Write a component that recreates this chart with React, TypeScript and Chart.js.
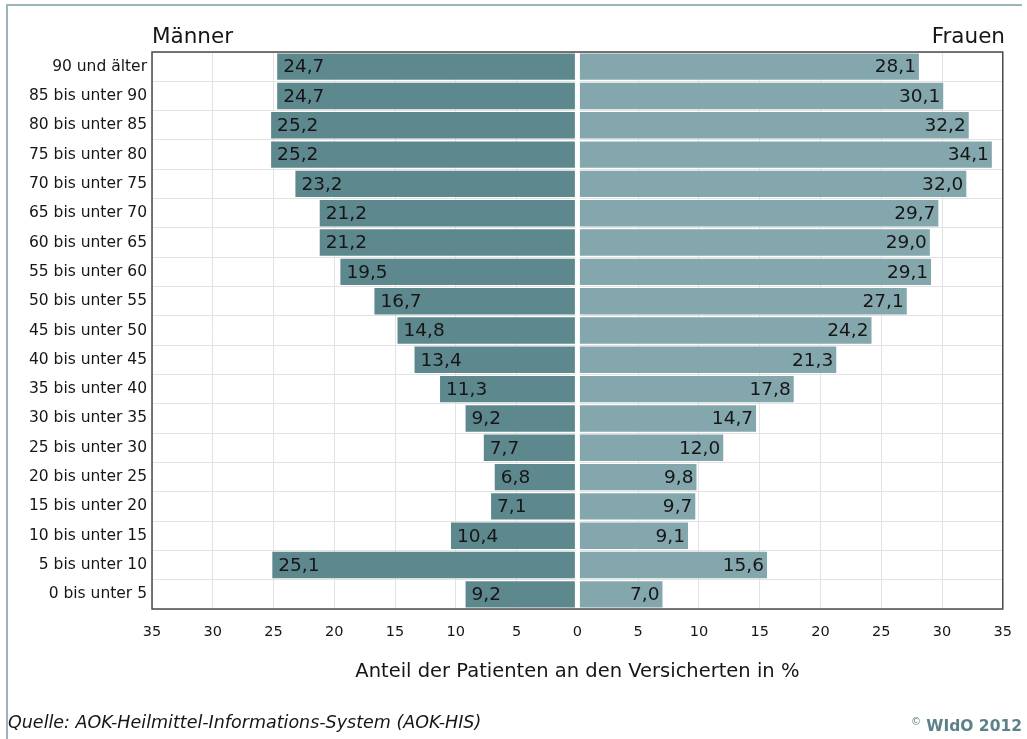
import React, { useEffect, useRef } from "react";
import { Chart, registerables } from "chart.js";

Chart.register(...registerables);

const ageGroups = [
  "90 und älter",
  "85 bis unter 90",
  "80 bis unter 85",
  "75 bis unter 80",
  "70 bis unter 75",
  "65 bis unter 70",
  "60 bis unter 65",
  "55 bis unter 60",
  "50 bis unter 55",
  "45 bis unter 50",
  "40 bis unter 45",
  "35 bis unter 40",
  "30 bis unter 35",
  "25 bis unter 30",
  "20 bis unter 25",
  "15 bis unter 20",
  "10 bis unter 15",
  "5 bis unter 10",
  "0 bis unter 5",
];

const maleValues = [24.7, 24.7, 25.2, 25.2, 23.2, 21.2, 21.2, 19.5, 16.7, 14.8, 13.4, 11.3, 9.2, 7.7, 6.8, 7.1, 10.4, 25.1, 9.2];
const femaleValues = [28.1, 30.1, 32.2, 34.1, 32.0, 29.7, 29.0, 29.1, 27.1, 24.2, 21.3, 17.8, 14.7, 12.0, 9.8, 9.7, 9.1, 15.6, 7.0];

const xMin = -35;
const xMax = 35;
const xStep = 5;

const FONT = "'DejaVu Sans', 'Open Sans', sans-serif";
const TEXT = "#161616";

const fmt = (v: number) => Math.abs(v).toFixed(1).replace(".", ",");

const zeroGapPlugin = {
  id: "zeroGap",
  afterDatasetsDraw(chart: any) {
    const { ctx, chartArea } = chart;
    const x0 = chart.scales.x.getPixelForValue(0);
    ctx.save();
    ctx.fillStyle = "#ffffff";
    ctx.fillRect(x0 - 2.5, chartArea.top, 5, chartArea.bottom - chartArea.top);
    ctx.restore();
  },
};

const valueLabelPlugin = {
  id: "valueLabels",
  afterDatasetsDraw(chart: any) {
    const { ctx } = chart;
    ctx.save();
    ctx.font = `18.5px ${FONT}`;
    ctx.fillStyle = TEXT;
    ctx.textBaseline = "middle";
    chart.data.datasets.forEach((ds: any, di: number) => {
      const meta = chart.getDatasetMeta(di);
      meta.data.forEach((el: any, i: number) => {
        const v = ds.data[i];
        if (v < 0) {
          ctx.textAlign = "left";
          ctx.fillText(fmt(v), el.x + 6, el.y + 1);
        } else {
          ctx.textAlign = "right";
          ctx.fillText(fmt(v), el.x - 3, el.y + 1);
        }
      });
    });
    ctx.restore();
  },
};

const borderPlugin = {
  id: "plotBorder",
  afterDraw(chart: any) {
    const { ctx, chartArea } = chart;
    ctx.save();
    ctx.strokeStyle = "#4a4a4a";
    ctx.lineWidth = 1.5;
    ctx.strokeRect(chartArea.left, chartArea.top, chartArea.right - chartArea.left, chartArea.bottom - chartArea.top);
    ctx.restore();
  },
};

export default function App() {
  const ref = useRef<HTMLCanvasElement | null>(null);

  useEffect(() => {
    if (!ref.current) return;
    const chart = new Chart(ref.current, {
      type: "bar",
      data: {
        labels: ageGroups,
        datasets: [
          {
            label: "Männer",
            data: maleValues.map((v) => -v),
            backgroundColor: "#5d888e",
            barPercentage: 0.9,
            categoryPercentage: 1,
          },
          {
            label: "Frauen",
            data: femaleValues,
            backgroundColor: "#83a7ad",
            barPercentage: 0.9,
            categoryPercentage: 1,
          },
        ],
      },
      options: {
        indexAxis: "y",
        responsive: false,
        animation: false,
        devicePixelRatio: 1,
        layout: { padding: { left: 0, top: 52, right: 19, bottom: 0 } },
        plugins: {
          legend: { display: false },
          tooltip: { enabled: false },
        },
        scales: {
          x: {
            type: "linear",
            min: xMin,
            max: xMax,
            stacked: true,
            ticks: {
              stepSize: xStep,
              callback: (v: any) => String(Math.abs(Number(v))),
              padding: 15,
              color: TEXT,
              font: { family: FONT, size: 14.5 },
              maxRotation: 0,
            },
            grid: { color: "#e2e2e2", drawTicks: false },
            border: { display: false },
            title: {
              display: true,
              text: "Anteil der Patienten an den Versicherten in %",
              color: TEXT,
              font: { family: FONT, size: 19.5 },
              padding: { top: 0, bottom: 55 },
            },
            afterFit: (s: any) => {
              s.height = 130;
            },
          },
          y: {
            type: "category",
            stacked: true,
            ticks: {
              padding: 5,
              color: TEXT,
              font: { family: FONT, size: 15.5 },
              autoSkip: false,
            },
            grid: { color: "#e2e2e2", drawTicks: false, offset: true },
            border: { display: false },
            afterFit: (s: any) => {
              s.width = 152;
            },
          },
        },
      } as any,
      plugins: [zeroGapPlugin, valueLabelPlugin, borderPlugin],
    });
    return () => chart.destroy();
  }, []);

  return (
    <div style={{ position: "fixed", left: 0, top: 0, width: 1027, height: 739, background: "#fff", overflow: "hidden", fontFamily: FONT }}>
      <div style={{ position: "absolute", left: 6, top: 4, width: 2, height: 735, background: "#9bb6bb" }} />
      <div style={{ position: "absolute", left: 6, top: 4, width: 1016, height: 2, background: "#9bb6bb" }} />
      <canvas ref={ref} width={1027} height={739} style={{ position: "absolute", left: 0, top: 0, width: 1027, height: 739 }} />
      <div style={{ position: "absolute", left: 152, top: 22, fontSize: 21.5, color: TEXT, lineHeight: "28px" }}>Männer</div>
      <div style={{ position: "absolute", right: 22, top: 22, fontSize: 21.5, color: TEXT, lineHeight: "28px" }}>Frauen</div>
      <div style={{ position: "absolute", left: 8, top: 709, fontSize: 17.5, fontStyle: "italic", color: TEXT, lineHeight: "26px" }}>
        Quelle: AOK-Heilmittel-Informations-System (AOK-HIS)
      </div>
      <div style={{ position: "absolute", right: 5, top: 709, fontSize: 15.5, fontWeight: 700, color: "#5d8189", lineHeight: "26px" }}>
        <span style={{ fontSize: 10, verticalAlign: "super", fontWeight: 400 }}>©</span> WIdO 2012
      </div>
    </div>
  );
}
